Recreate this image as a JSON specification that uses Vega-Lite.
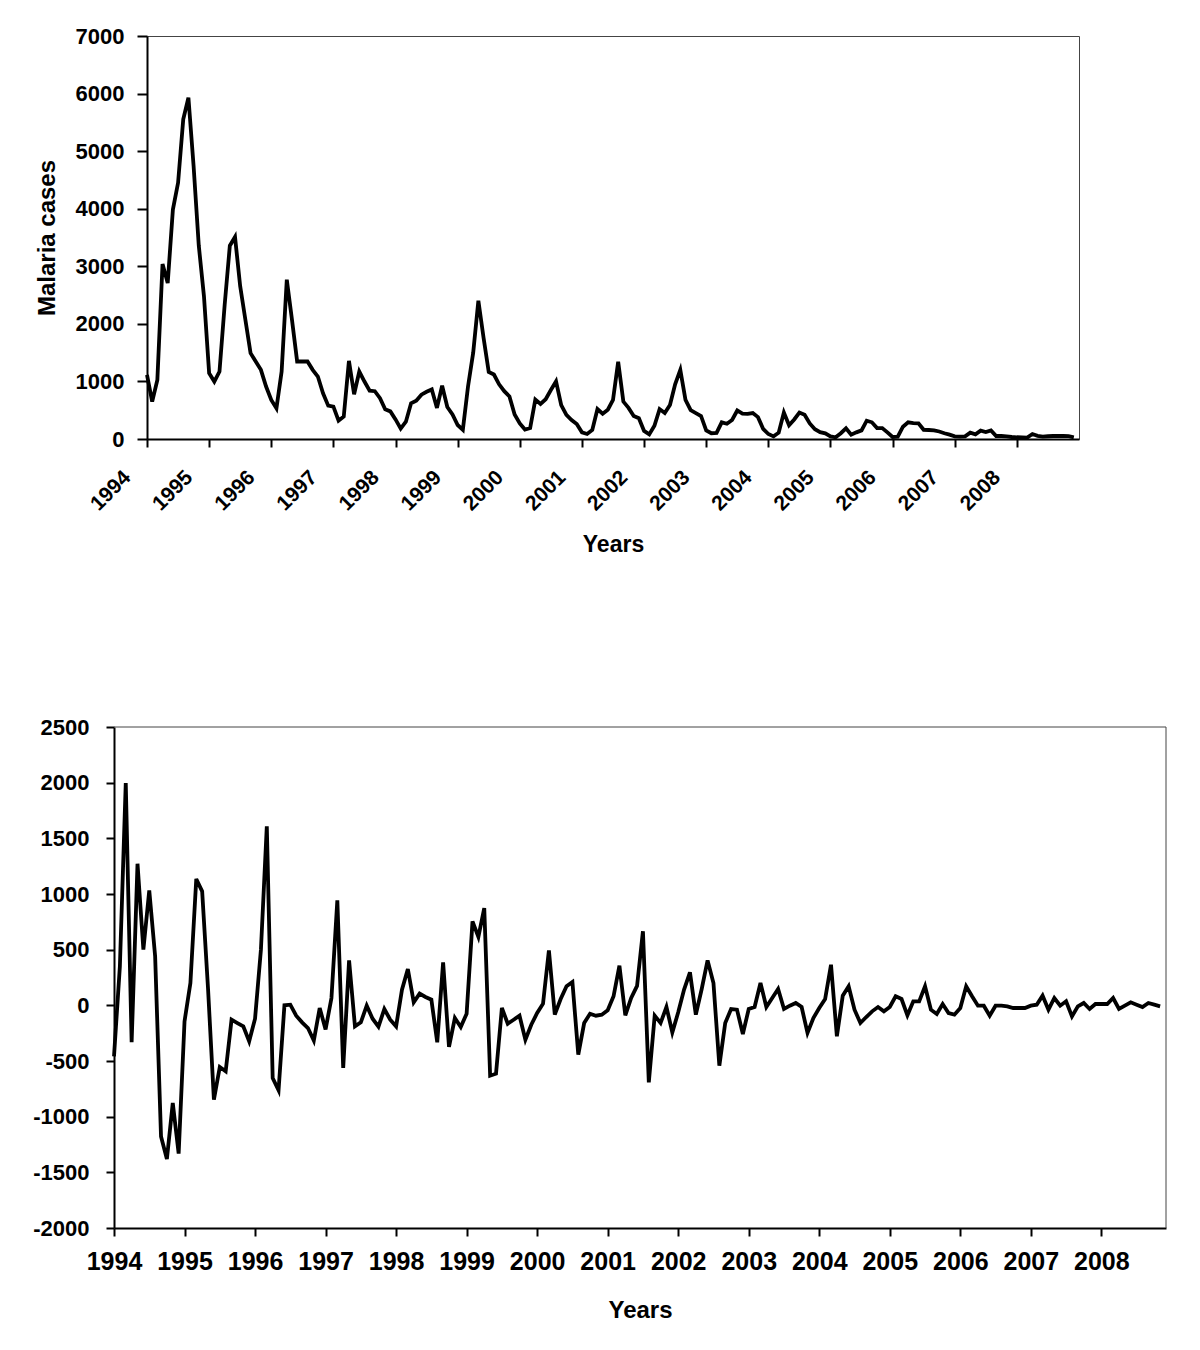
{
  "$schema": "https://vega.github.io/schema/vega-lite/v6.json",
  "background": "white",
  "padding": {"left": 32, "top": 24, "right": 5, "bottom": 10},
  "autosize": {"type": "pad"},
  "spacing": 159,
  "config": {
    "font": "Liberation Sans",
    "view": {"stroke": "#444444", "strokeWidth": 1},
    "axis": {
      "grid": false,
      "domainColor": "black",
      "domainWidth": 2,
      "tickColor": "black",
      "tickWidth": 2,
      "labelColor": "black",
      "titleColor": "black",
      "labelFontWeight": "bold",
      "titleFontWeight": "bold",
      "labelFont": "Liberation Sans",
      "titleFont": "Liberation Sans",
      "labelFlush": false,
      "labelOverlap": false
    }
  },
  "datasets": {
    "cases": [
      {"t":0,"cases":1114},{"t":1,"cases":650},{"t":2,"cases":1027},{"t":3,"cases":3039},{"t":4,"cases":2709},{"t":5,"cases":3985},{"t":6,"cases":4449},{"t":7,"cases":5551},{"t":8,"cases":5928},{"t":9,"cases":4740},{"t":10,"cases":3360},{"t":11,"cases":2480},
      {"t":12,"cases":1143},{"t":13,"cases":998},{"t":14,"cases":1172},{"t":15,"cases":2330},{"t":16,"cases":3358},{"t":17,"cases":3509},{"t":18,"cases":2651},{"t":19,"cases":2071},{"t":20,"cases":1491},{"t":21,"cases":1346},{"t":22,"cases":1201},{"t":23,"cases":911},
      {"t":24,"cases":679},{"t":25,"cases":534},{"t":26,"cases":1172},{"t":27,"cases":2767},{"t":28,"cases":2071},{"t":29,"cases":1346},{"t":30,"cases":1346},{"t":31,"cases":1346},{"t":32,"cases":1201},{"t":33,"cases":1085},{"t":34,"cases":795},{"t":35,"cases":580},
      {"t":36,"cases":563},{"t":37,"cases":319},{"t":38,"cases":389},{"t":39,"cases":1357},{"t":40,"cases":777},{"t":41,"cases":1172},{"t":42,"cases":998},{"t":43,"cases":840},{"t":44,"cases":830},{"t":45,"cases":710},{"t":46,"cases":515},{"t":47,"cases":480},
      {"t":48,"cases":340},{"t":49,"cases":180},{"t":50,"cases":300},{"t":51,"cases":620},{"t":52,"cases":665},{"t":53,"cases":770},{"t":54,"cases":820},{"t":55,"cases":860},{"t":56,"cases":540},{"t":57,"cases":925},{"t":58,"cases":555},{"t":59,"cases":425},
      {"t":60,"cases":243},{"t":61,"cases":160},{"t":62,"cases":912},{"t":63,"cases":1500},{"t":64,"cases":2403},{"t":65,"cases":1760},{"t":66,"cases":1165},{"t":67,"cases":1120},{"t":68,"cases":950},{"t":69,"cases":830},{"t":70,"cases":740},{"t":71,"cases":425},
      {"t":72,"cases":270},{"t":73,"cases":165},{"t":74,"cases":190},{"t":75,"cases":685},{"t":76,"cases":610},{"t":77,"cases":690},{"t":78,"cases":850},{"t":79,"cases":1000},{"t":80,"cases":590},{"t":81,"cases":420},{"t":82,"cases":330},{"t":83,"cases":260},
      {"t":84,"cases":116},{"t":85,"cases":87},{"t":86,"cases":156},{"t":87,"cases":520},{"t":88,"cases":440},{"t":89,"cases":510},{"t":90,"cases":677},{"t":91,"cases":1343},{"t":92,"cases":650},{"t":93,"cases":540},{"t":94,"cases":400},{"t":95,"cases":360},
      {"t":96,"cases":140},{"t":97,"cases":80},{"t":98,"cases":230},{"t":99,"cases":520},{"t":100,"cases":450},{"t":101,"cases":590},{"t":102,"cases":950},{"t":103,"cases":1199},{"t":104,"cases":680},{"t":105,"cases":500},{"t":106,"cases":450},{"t":107,"cases":400},
      {"t":108,"cases":150},{"t":109,"cases":100},{"t":110,"cases":105},{"t":111,"cases":290},{"t":112,"cases":265},{"t":113,"cases":330},{"t":114,"cases":495},{"t":115,"cases":440},{"t":116,"cases":435},{"t":117,"cases":450},{"t":118,"cases":380},{"t":119,"cases":175},
      {"t":120,"cases":87},{"t":121,"cases":45},{"t":122,"cases":110},{"t":123,"cases":460},{"t":124,"cases":240},{"t":125,"cases":340},{"t":126,"cases":460},{"t":127,"cases":420},{"t":128,"cases":270},{"t":129,"cases":170},{"t":130,"cases":120},{"t":131,"cases":98},
      {"t":132,"cases":45},{"t":133,"cases":30},{"t":134,"cases":100},{"t":135,"cases":185},{"t":136,"cases":75},{"t":137,"cases":115},{"t":138,"cases":150},{"t":139,"cases":318},{"t":140,"cases":290},{"t":141,"cases":190},{"t":142,"cases":190},{"t":143,"cases":115},
      {"t":144,"cases":35},{"t":145,"cases":40},{"t":146,"cases":214},{"t":147,"cases":290},{"t":148,"cases":275},{"t":149,"cases":272},{"t":150,"cases":160},{"t":151,"cases":156},{"t":152,"cases":150},{"t":153,"cases":130},{"t":154,"cases":100},{"t":155,"cases":75},
      {"t":156,"cases":45},{"t":157,"cases":40},{"t":158,"cases":45},{"t":159,"cases":110},{"t":160,"cases":81},{"t":161,"cases":145},{"t":162,"cases":120},{"t":163,"cases":150},{"t":164,"cases":52},{"t":165,"cases":52},{"t":166,"cases":45},{"t":167,"cases":35},
      {"t":168,"cases":30},{"t":169,"cases":28},{"t":170,"cases":25},{"t":171,"cases":87},{"t":172,"cases":55},{"t":173,"cases":42},{"t":174,"cases":48},{"t":175,"cases":52},{"t":176,"cases":52},{"t":177,"cases":52},{"t":178,"cases":50},{"t":179,"cases":30}
    ],
    "diff": [
      {"t":0,"d":-458},{"t":1,"d":350},{"t":2,"d":1997},{"t":3,"d":-332},{"t":4,"d":1272},{"t":5,"d":500},{"t":6,"d":1033},{"t":7,"d":440},{"t":8,"d":-1177},{"t":9,"d":-1380},{"t":10,"d":-877},{"t":11,"d":-1332},
      {"t":12,"d":-144},{"t":13,"d":200},{"t":14,"d":1135},{"t":15,"d":1024},{"t":16,"d":150},{"t":17,"d":-847},{"t":18,"d":-554},{"t":19,"d":-593},{"t":20,"d":-129},{"t":21,"d":-159},{"t":22,"d":-189},{"t":23,"d":-323},
      {"t":24,"d":-120},{"t":25,"d":500},{"t":26,"d":1608},{"t":27,"d":-653},{"t":28,"d":-763},{"t":29,"d":0},{"t":30,"d":6},{"t":31,"d":-93},{"t":32,"d":-153},{"t":33,"d":-204},{"t":34,"d":-317},{"t":35,"d":-24},
      {"t":36,"d":-216},{"t":37,"d":66},{"t":38,"d":943},{"t":39,"d":-563},{"t":40,"d":404},{"t":41,"d":-189},{"t":42,"d":-153},{"t":43,"d":-3},{"t":44,"d":-120},{"t":45,"d":-192},{"t":46,"d":-33},{"t":47,"d":-129},
      {"t":48,"d":-189},{"t":49,"d":141},{"t":50,"d":326},{"t":51,"d":27},{"t":52,"d":105},{"t":53,"d":75},{"t":54,"d":51},{"t":55,"d":-332},{"t":56,"d":386},{"t":57,"d":-374},{"t":58,"d":-114},{"t":59,"d":-195},
      {"t":60,"d":-75},{"t":61,"d":754},{"t":62,"d":614},{"t":63,"d":874},{"t":64,"d":-632},{"t":65,"d":-614},{"t":66,"d":-24},{"t":67,"d":-165},{"t":68,"d":-129},{"t":69,"d":-93},{"t":70,"d":-308},{"t":71,"d":-174},
      {"t":72,"d":-69},{"t":73,"d":15},{"t":74,"d":494},{"t":75,"d":-84},{"t":76,"d":57},{"t":77,"d":171},{"t":78,"d":210},{"t":79,"d":-443},{"t":80,"d":-159},{"t":81,"d":-75},{"t":82,"d":-93},{"t":83,"d":-84},
      {"t":84,"d":-45},{"t":85,"d":81},{"t":86,"d":356},{"t":87,"d":-90},{"t":88,"d":66},{"t":89,"d":175},{"t":90,"d":665},{"t":91,"d":-692},{"t":92,"d":-93},{"t":93,"d":-159},{"t":94,"d":-15},{"t":95,"d":-243},
      {"t":96,"d":-63},{"t":97,"d":141},{"t":98,"d":296},{"t":99,"d":-84},{"t":100,"d":147},{"t":101,"d":404},{"t":102,"d":200},{"t":103,"d":-542},{"t":104,"d":-159},{"t":105,"d":-33},{"t":106,"d":-39},{"t":107,"d":-257},
      {"t":108,"d":-33},{"t":109,"d":-15},{"t":110,"d":200},{"t":111,"d":-15},{"t":112,"d":66},{"t":113,"d":147},{"t":114,"d":-33},{"t":115,"d":-3},{"t":116,"d":21},{"t":117,"d":-15},{"t":118,"d":-248},{"t":119,"d":-114},
      {"t":120,"d":-24},{"t":121,"d":57},{"t":122,"d":365},{"t":123,"d":-278},{"t":124,"d":87},{"t":125,"d":171},{"t":126,"d":-39},{"t":127,"d":-159},{"t":128,"d":-105},{"t":129,"d":-54},{"t":130,"d":-15},{"t":131,"d":-54},
      {"t":132,"d":-15},{"t":133,"d":81},{"t":134,"d":57},{"t":135,"d":-90},{"t":136,"d":36},{"t":137,"d":36},{"t":138,"d":171},{"t":139,"d":-39},{"t":140,"d":-78},{"t":141,"d":12},{"t":142,"d":-69},{"t":143,"d":-84},
      {"t":144,"d":-24},{"t":145,"d":171},{"t":146,"d":81},{"t":147,"d":-3},{"t":148,"d":-3},{"t":149,"d":-93},{"t":150,"d":-3},{"t":151,"d":-3},{"t":152,"d":-9},{"t":153,"d":-24},{"t":154,"d":-24},{"t":155,"d":-24},
      {"t":156,"d":-3},{"t":157,"d":6},{"t":158,"d":87},{"t":159,"d":-39},{"t":160,"d":66},{"t":161,"d":-3},{"t":162,"d":36},{"t":163,"d":-99},{"t":164,"d":-9},{"t":165,"d":21},{"t":166,"d":-33},{"t":167,"d":12},
      {"t":168,"d":12},{"t":169,"d":12},{"t":170,"d":66},{"t":171,"d":-33},{"t":172,"d":-3},{"t":173,"d":27},{"t":174,"d":6},{"t":175,"d":-15},{"t":176,"d":21},{"t":177,"d":6},{"t":178,"d":-9}
    ]
  },
  "vconcat": [
    {
      "width": 932,
      "height": 403,
      "data": {"name": "cases"},
      "mark": {"type": "line", "color": "black", "strokeWidth": 3.8, "strokeJoin": "miter"},
      "encoding": {
        "x": {
          "field": "t",
          "type": "quantitative",
          "scale": {"domain": [0, 180], "nice": false, "zero": false},
          "axis": {
            "title": "Years",
            "values": [0, 12, 24, 36, 48, 60, 72, 84, 96, 108, 120, 132, 144, 156, 168],
            "labelExpr": "'' + (1994 + datum.value / 12)",
            "labelAngle": -45,
            "labelAlign": "right",
            "labelBaseline": "middle",
            "labelFontSize": 21,
            "labelPadding": 27,
            "labelOffset": -20,
            "tickSize": 8,
            "titleFontSize": 23,
            "titlePadding": 19
          }
        },
        "y": {
          "field": "cases",
          "type": "quantitative",
          "scale": {"domain": [0, 7000], "nice": false},
          "axis": {
            "title": "Malaria cases",
            "values": [0, 1000, 2000, 3000, 4000, 5000, 6000, 7000],
            "labelExpr": "'' + datum.value",
            "labelFontSize": 22,
            "labelPadding": 13,
            "tickSize": 10,
            "titleFontSize": 24,
            "titlePadding": 16
          }
        }
      }
    },
    {
      "width": 1019,
      "height": 501,
      "view": {"stroke": null},
      "layer": [
        {
          "data": {"name": "diff"},
          "mark": {"type": "line", "color": "black", "strokeWidth": 3.8, "strokeJoin": "miter"},
          "encoding": {
            "x": {
              "field": "t",
              "type": "quantitative",
              "scale": {"domain": [0, 179], "range": [-33, 1019], "nice": false, "zero": false},
              "axis": {
                "title": "Years",
                "values": [0, 12, 24, 36, 48, 60, 72, 84, 96, 108, 120, 132, 144, 156, 168],
                "labelExpr": "'' + (1994 + datum.value / 12)",
                "labelAngle": 0,
                "labelFontSize": 25,
                "labelPadding": 13,
                "tickSize": 8,
                "titleFontSize": 24,
                "titlePadding": 24
              }
            },
            "y": {
              "field": "d",
              "type": "quantitative",
              "scale": {"domain": [-2000, 2500], "nice": false, "zero": false},
              "axis": {
                "title": null,
                "offset": 33,
                "values": [-2000, -1500, -1000, -500, 0, 500, 1000, 1500, 2000, 2500],
                "labelExpr": "'' + datum.value",
                "labelFontSize": 22,
                "labelPadding": 17,
                "tickSize": 8
              }
            }
          }
        },
        {
          "data": {"values": [{}]},
          "mark": {"type": "rule", "color": "#444444", "strokeWidth": 1},
          "encoding": {
            "x": {"datum": 0, "type": "quantitative"},
            "x2": {"datum": 179},
            "y": {"datum": 2500, "type": "quantitative"}
          }
        },
        {
          "data": {"values": [{}]},
          "mark": {"type": "rule", "color": "#444444", "strokeWidth": 1},
          "encoding": {
            "x": {"datum": 179, "type": "quantitative"},
            "y": {"datum": -2000, "type": "quantitative"},
            "y2": {"datum": 2500}
          }
        }
      ]
    }
  ]
}
